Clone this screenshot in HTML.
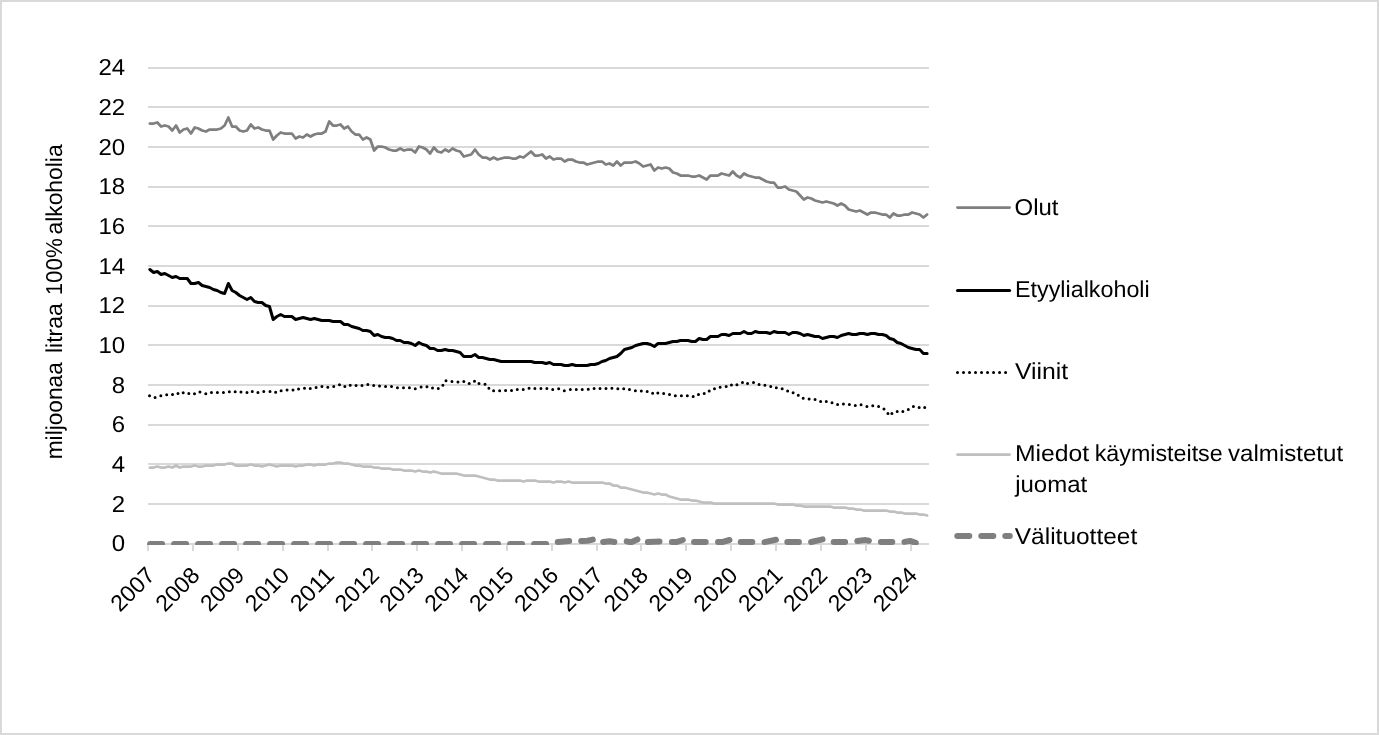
<!DOCTYPE html>
<html lang="fi">
<head>
<meta charset="utf-8">
<title>Alkoholijuomien kulutus</title>
<style>
html,body{margin:0;padding:0;background:#fff;}
body{width:1379px;height:735px;overflow:hidden;}
#chart{position:absolute;left:0;top:0;width:1379px;height:735px;box-sizing:border-box;border:2px solid #d9d9d9;background:#fff;}
svg{position:absolute;left:0;top:0;display:block;}
text{font-family:"Liberation Sans", sans-serif;font-size:23px;fill:#000;text-rendering:geometricPrecision;}
</style>
</head>
<body>
<div id="chart"></div>
<svg width="1379" height="735" viewBox="0 0 1379 735">
<defs><clipPath id="plot"><rect x="140" y="60" width="800" height="485"/></clipPath></defs>

<g stroke="#d9d9d9" stroke-width="2" shape-rendering="crispEdges">
<line x1="148.0" y1="68" x2="929.0" y2="68"/>
<line x1="148.0" y1="107" x2="929.0" y2="107"/>
<line x1="148.0" y1="147" x2="929.0" y2="147"/>
<line x1="148.0" y1="187" x2="929.0" y2="187"/>
<line x1="148.0" y1="226" x2="929.0" y2="226"/>
<line x1="148.0" y1="266" x2="929.0" y2="266"/>
<line x1="148.0" y1="306" x2="929.0" y2="306"/>
<line x1="148.0" y1="345" x2="929.0" y2="345"/>
<line x1="148.0" y1="385" x2="929.0" y2="385"/>
<line x1="148.0" y1="425" x2="929.0" y2="425"/>
<line x1="148.0" y1="464" x2="929.0" y2="464"/>
<line x1="148.0" y1="504" x2="929.0" y2="504"/>
</g>
<g fill="none" stroke-linecap="round" stroke-linejoin="round" clip-path="url(#plot)">
<path d="M149.87,123.50 L153.61,123.50 L157.34,122.50 L161.08,126.50 L164.82,125.50 L168.55,126.50 L172.29,130.50 L176.03,125.50 L179.76,132.50 L183.50,129.50 L187.24,128.50 L190.97,133.50 L194.71,127.50 L198.45,128.50 L202.18,130.50 L205.92,131.50 L209.66,129.50 L213.39,129.50 L217.13,129.50 L220.87,128.50 L224.61,125.50 L228.34,117.50 L232.08,126.50 L235.82,126.50 L239.55,130.50 L243.29,131.50 L247.03,130.50 L250.76,124.50 L254.50,128.50 L258.24,127.50 L261.97,129.50 L265.71,130.50 L269.45,130.50 L273.18,139.50 L276.92,135.50 L280.66,132.50 L284.39,133.50 L288.13,133.50 L291.87,133.50 L295.61,138.50 L299.34,136.50 L303.08,137.50 L306.82,134.50 L310.55,136.50 L314.29,134.50 L318.03,133.50 L321.76,133.50 L325.50,131.50 L329.24,121.50 L332.97,125.50 L336.71,125.50 L340.45,124.50 L344.18,128.50 L347.92,126.50 L351.66,131.50 L355.39,134.50 L359.13,134.50 L362.87,139.50 L366.61,137.50 L370.34,139.50 L374.08,150.50 L377.82,146.50 L381.55,146.50 L385.29,147.50 L389.03,149.50 L392.76,150.50 L396.50,150.50 L400.24,148.50 L403.97,150.50 L407.71,149.50 L411.45,149.50 L415.18,152.50 L418.92,146.50 L422.66,147.50 L426.39,149.50 L430.13,153.50 L433.87,147.50 L437.61,151.50 L441.34,152.50 L445.08,149.50 L448.82,151.50 L452.55,148.50 L456.29,150.50 L460.03,151.50 L463.76,156.50 L467.50,155.50 L471.24,154.50 L474.97,149.50 L478.71,154.50 L482.45,157.50 L486.18,157.50 L489.92,159.50 L493.66,157.50 L497.39,159.50 L501.13,158.50 L504.87,157.50 L508.61,157.50 L512.34,158.50 L516.08,158.50 L519.82,156.50 L523.55,157.50 L527.29,154.50 L531.03,151.50 L534.76,155.50 L538.50,155.50 L542.24,154.50 L545.97,158.50 L549.71,156.50 L553.45,159.50 L557.18,158.50 L560.92,158.50 L564.66,161.50 L568.39,159.50 L572.13,159.50 L575.87,161.50 L579.61,162.50 L583.34,162.50 L587.08,164.50 L590.82,163.50 L594.55,162.50 L598.29,161.50 L602.03,161.50 L605.76,164.50 L609.50,163.50 L613.24,165.50 L616.97,161.50 L620.71,165.50 L624.45,162.50 L628.18,162.50 L631.92,162.50 L635.66,161.50 L639.39,163.50 L643.13,166.50 L646.87,165.50 L650.61,164.50 L654.34,170.50 L658.08,167.50 L661.82,168.50 L665.55,167.50 L669.29,168.50 L673.03,172.50 L676.76,173.50 L680.50,175.50 L684.24,175.50 L687.97,175.50 L691.71,176.50 L695.45,176.50 L699.18,175.50 L702.92,177.50 L706.66,179.50 L710.39,175.50 L714.13,175.50 L717.87,175.50 L721.61,173.50 L725.34,174.50 L729.08,175.50 L732.82,171.50 L736.55,175.50 L740.29,177.50 L744.03,173.50 L747.76,175.50 L751.50,176.50 L755.24,177.50 L758.97,177.50 L762.71,179.50 L766.45,181.50 L770.18,182.50 L773.92,182.50 L777.66,187.50 L781.39,187.50 L785.13,186.50 L788.87,189.50 L792.61,190.50 L796.34,191.50 L800.08,195.50 L803.82,199.50 L807.55,197.50 L811.29,198.50 L815.03,200.50 L818.76,201.50 L822.50,202.50 L826.24,201.50 L829.97,202.50 L833.71,203.50 L837.45,205.50 L841.18,203.50 L844.92,205.50 L848.66,209.50 L852.39,210.50 L856.13,211.50 L859.87,210.50 L863.61,212.50 L867.34,214.50 L871.08,212.50 L874.82,212.50 L878.55,213.50 L882.29,214.50 L886.03,214.50 L889.76,217.50 L893.50,213.50 L897.24,215.50 L900.97,215.50 L904.71,214.50 L908.45,214.50 L912.18,212.50 L915.92,213.50 L919.66,214.50 L923.39,217.50 L927.13,214.50" stroke="#7f7f7f" stroke-width="2.75"/>
<path d="M149.87,269.50 L153.61,272.50 L157.34,271.50 L161.08,274.50 L164.82,273.50 L168.55,275.50 L172.29,277.50 L176.03,276.50 L179.76,278.50 L183.50,278.50 L187.24,278.50 L190.97,283.50 L194.71,283.50 L198.45,282.50 L202.18,285.50 L205.92,286.50 L209.66,287.50 L213.39,289.50 L217.13,290.50 L220.87,292.50 L224.61,293.50 L228.34,283.50 L232.08,290.50 L235.82,292.50 L239.55,295.50 L243.29,297.50 L247.03,299.50 L250.76,297.50 L254.50,301.50 L258.24,302.50 L261.97,302.50 L265.71,305.50 L269.45,306.50 L273.18,319.50 L276.92,316.50 L280.66,314.50 L284.39,316.50 L288.13,316.50 L291.87,316.50 L295.61,319.50 L299.34,318.50 L303.08,317.50 L306.82,318.50 L310.55,319.50 L314.29,318.50 L318.03,319.50 L321.76,320.50 L325.50,320.50 L329.24,320.50 L332.97,321.50 L336.71,321.50 L340.45,321.50 L344.18,324.50 L347.92,324.50 L351.66,326.50 L355.39,327.50 L359.13,328.50 L362.87,330.50 L366.61,330.50 L370.34,331.50 L374.08,335.50 L377.82,334.50 L381.55,336.50 L385.29,337.50 L389.03,337.50 L392.76,338.50 L396.50,340.50 L400.24,340.50 L403.97,342.50 L407.71,342.50 L411.45,343.50 L415.18,345.50 L418.92,342.50 L422.66,344.50 L426.39,345.50 L430.13,348.50 L433.87,348.50 L437.61,350.50 L441.34,350.50 L445.08,349.50 L448.82,350.50 L452.55,350.50 L456.29,351.50 L460.03,352.50 L463.76,356.50 L467.50,356.50 L471.24,356.50 L474.97,354.50 L478.71,357.50 L482.45,357.50 L486.18,358.50 L489.92,359.50 L493.66,359.50 L497.39,360.50 L501.13,361.50 L504.87,361.50 L508.61,361.50 L512.34,361.50 L516.08,361.50 L519.82,361.50 L523.55,361.50 L527.29,361.50 L531.03,361.50 L534.76,362.50 L538.50,362.50 L542.24,362.50 L545.97,363.50 L549.71,362.50 L553.45,364.50 L557.18,364.50 L560.92,364.50 L564.66,365.50 L568.39,365.50 L572.13,364.50 L575.87,365.50 L579.61,365.50 L583.34,365.50 L587.08,365.50 L590.82,364.50 L594.55,364.50 L598.29,363.50 L602.03,361.50 L605.76,360.50 L609.50,358.50 L613.24,357.50 L616.97,356.50 L620.71,353.50 L624.45,349.50 L628.18,348.50 L631.92,347.50 L635.66,345.50 L639.39,344.50 L643.13,343.50 L646.87,343.50 L650.61,344.50 L654.34,346.50 L658.08,343.50 L661.82,343.50 L665.55,343.50 L669.29,342.50 L673.03,341.50 L676.76,341.50 L680.50,340.50 L684.24,340.50 L687.97,340.50 L691.71,341.50 L695.45,341.50 L699.18,338.50 L702.92,339.50 L706.66,339.50 L710.39,336.50 L714.13,336.50 L717.87,336.50 L721.61,334.50 L725.34,334.50 L729.08,335.50 L732.82,333.50 L736.55,333.50 L740.29,333.50 L744.03,331.50 L747.76,333.50 L751.50,333.50 L755.24,331.50 L758.97,332.50 L762.71,332.50 L766.45,332.50 L770.18,333.50 L773.92,331.50 L777.66,332.50 L781.39,332.50 L785.13,332.50 L788.87,334.50 L792.61,332.50 L796.34,332.50 L800.08,333.50 L803.82,335.50 L807.55,334.50 L811.29,335.50 L815.03,336.50 L818.76,336.50 L822.50,338.50 L826.24,337.50 L829.97,336.50 L833.71,336.50 L837.45,337.50 L841.18,335.50 L844.92,334.50 L848.66,333.50 L852.39,334.50 L856.13,334.50 L859.87,333.50 L863.61,333.50 L867.34,334.50 L871.08,333.50 L874.82,333.50 L878.55,334.50 L882.29,334.50 L886.03,335.50 L889.76,338.50 L893.50,339.50 L897.24,342.50 L900.97,343.50 L904.71,345.50 L908.45,347.50 L912.18,348.50 L915.92,349.50 L919.66,349.50 L923.39,353.50 L927.13,353.50" stroke="#000" stroke-width="3"/>
<path d="M149.52,395.63h0 M155.09,397.42h0 M160.84,395.82h0 M166.68,394.69h0 M172.53,394.60h0 M177.99,393.56h0 M183.18,392.81h0 M188.83,393.47h0 M194.49,393.65h0 M199.96,392.05h0 M205.80,393.65h0 M211.46,392.62h0 M217.40,392.62h0 M223.43,392.62h0 M229.37,391.86h0 M235.21,391.86h0 M240.97,392.05h0 M247.00,392.62h0 M252.28,391.39h0 M257.93,392.62h0 M263.78,391.58h0 M270.00,391.58h0 M275.66,392.33h0 M281.12,390.64h0 M287.06,389.98h0 M293.00,389.98h0 M298.56,389.03h0 M304.50,388.28h0 M310.25,388.47h0 M316.10,387.53h0 M321.94,386.58h0 M327.79,387.15h0 M333.73,386.58h0 M339.48,384.79h0 M344.85,386.40h0 M350.22,385.26h0 M356.07,385.45h0 M362.01,385.45h0 M367.85,384.60h0 M373.70,385.45h0 M379.54,386.11h0 M385.57,386.58h0 M391.51,386.58h0 M397.45,387.71h0 M403.48,387.71h0 M409.42,387.71h0 M415.27,388.65h0 M421.11,386.95h0 M426.96,386.76h0 M432.52,387.99h0 M438.27,388.46h0 M442.89,385.35h0 M446.00,380.73h0 M451.94,381.58h0 M457.97,382.05h0 M463.82,381.58h0 M469.19,383.56h0 M474.47,381.30h0 M478.99,383.47h0 M485.03,384.22h0 M488.89,388.18h0 M493.60,390.63h0 M499.64,390.63h0 M505.58,390.44h0 M511.52,390.44h0 M517.27,389.59h0 M523.21,389.59h0 M529.05,388.18h0 M534.89,388.56h0 M540.93,388.46h0 M546.87,388.56h0 M552.71,389.40h0 M558.65,388.74h0 M564.31,390.63h0 M570.34,389.59h0 M576.28,389.59h0 M582.22,389.59h0 M588.25,389.31h0 M594.10,388.56h0 M600.03,388.56h0 M605.97,388.56h0 M611.91,388.18h0 M617.85,388.65h0 M623.70,388.74h0 M629.45,389.59h0 M635.38,390.63h0 M641.32,391.10h0 M647.17,391.48h0 M652.64,393.27h0 M657.82,393.08h0 M663.67,393.55h0 M669.51,394.59h0 M675.35,395.63h0 M681.39,395.63h0 M687.33,395.63h0 M693.17,396.57h0 M698.45,394.40h0 M704.20,393.55h0 M709.20,391.10h0 M714.48,388.65h0 M720.13,387.14h0 M726.17,386.58h0 M731.44,384.88h0 M736.91,384.69h0 M742.47,382.62h0 M747.56,383.56h0 M753.50,382.62h0 M759.06,384.41h0 M764.91,385.26h0 M770.75,386.58h0 M776.32,387.81h0 M782.16,388.75h0 M787.63,391.01h0 M793.10,392.71h0 M798.28,395.35h0 M803.18,398.37h0 M809.12,398.93h0 M815.06,399.59h0 M820.62,401.57h0 M826.28,401.57h0 M832.03,402.70h0 M837.59,404.59h0 M843.44,404.02h0 M849.37,404.49h0 M855.31,405.44h0 M861.06,404.78h0 M866.91,406.47h0 M872.75,405.63h0 M878.60,406.47h0 M883.97,409.02h0 M887.93,413.54h0 M891.89,413.54h0 M897.20,411.57h0 M902.85,411.57h0 M908.32,409.59h0 M913.41,406.58h0 M919.16,407.61h0 M924.72,407.61h0" stroke="#000" stroke-width="3"/>
<path d="M149.87,467.50 L153.61,467.50 L157.34,466.50 L161.08,467.50 L164.82,467.50 L168.55,466.50 L172.29,467.50 L176.03,465.50 L179.76,467.50 L183.50,466.50 L187.24,466.50 L190.97,466.50 L194.71,465.50 L198.45,466.50 L202.18,466.50 L205.92,465.50 L209.66,465.50 L213.39,465.50 L217.13,464.50 L220.87,464.50 L224.61,464.50 L228.34,463.50 L232.08,463.50 L235.82,465.50 L239.55,465.50 L243.29,465.50 L247.03,465.50 L250.76,464.50 L254.50,465.50 L258.24,465.50 L261.97,466.50 L265.71,465.50 L269.45,464.50 L273.18,465.50 L276.92,466.50 L280.66,465.50 L284.39,465.50 L288.13,465.50 L291.87,465.50 L295.61,466.50 L299.34,465.50 L303.08,465.50 L306.82,464.50 L310.55,464.50 L314.29,465.50 L318.03,464.50 L321.76,464.50 L325.50,464.50 L329.24,463.50 L332.97,463.50 L336.71,462.50 L340.45,462.50 L344.18,463.50 L347.92,463.50 L351.66,464.50 L355.39,465.50 L359.13,465.50 L362.87,466.50 L366.61,466.50 L370.34,466.50 L374.08,467.50 L377.82,467.50 L381.55,468.50 L385.29,468.50 L389.03,468.50 L392.76,469.50 L396.50,469.50 L400.24,469.50 L403.97,470.50 L407.71,470.50 L411.45,470.50 L415.18,471.50 L418.92,470.50 L422.66,471.50 L426.39,471.50 L430.13,472.50 L433.87,471.50 L437.61,472.50 L441.34,473.50 L445.08,473.50 L448.82,473.50 L452.55,473.50 L456.29,473.50 L460.03,474.50 L463.76,475.50 L467.50,475.50 L471.24,475.50 L474.97,475.50 L478.71,476.50 L482.45,477.50 L486.18,478.50 L489.92,479.50 L493.66,479.50 L497.39,480.50 L501.13,480.50 L504.87,480.50 L508.61,480.50 L512.34,480.50 L516.08,480.50 L519.82,480.50 L523.55,481.50 L527.29,480.50 L531.03,480.50 L534.76,480.50 L538.50,481.50 L542.24,481.50 L545.97,481.50 L549.71,481.50 L553.45,482.50 L557.18,481.50 L560.92,481.50 L564.66,482.50 L568.39,481.50 L572.13,482.50 L575.87,482.50 L579.61,482.50 L583.34,482.50 L587.08,482.50 L590.82,482.50 L594.55,482.50 L598.29,482.50 L602.03,482.50 L605.76,483.50 L609.50,483.50 L613.24,485.50 L616.97,485.50 L620.71,487.50 L624.45,487.50 L628.18,488.50 L631.92,489.50 L635.66,490.50 L639.39,491.50 L643.13,492.50 L646.87,492.50 L650.61,493.50 L654.34,494.50 L658.08,493.50 L661.82,494.50 L665.55,494.50 L669.29,496.50 L673.03,497.50 L676.76,498.50 L680.50,499.50 L684.24,499.50 L687.97,499.50 L691.71,500.50 L695.45,500.50 L699.18,501.50 L702.92,502.50 L706.66,502.50 L710.39,502.50 L714.13,503.50 L717.87,503.50 L721.61,503.50 L725.34,503.50 L729.08,503.50 L732.82,503.50 L736.55,503.50 L740.29,503.50 L744.03,503.50 L747.76,503.50 L751.50,503.50 L755.24,503.50 L758.97,503.50 L762.71,503.50 L766.45,503.50 L770.18,503.50 L773.92,503.50 L777.66,504.50 L781.39,504.50 L785.13,504.50 L788.87,504.50 L792.61,504.50 L796.34,505.50 L800.08,505.50 L803.82,506.50 L807.55,506.50 L811.29,506.50 L815.03,506.50 L818.76,506.50 L822.50,506.50 L826.24,506.50 L829.97,506.50 L833.71,507.50 L837.45,507.50 L841.18,507.50 L844.92,507.50 L848.66,508.50 L852.39,508.50 L856.13,509.50 L859.87,509.50 L863.61,510.50 L867.34,510.50 L871.08,510.50 L874.82,510.50 L878.55,510.50 L882.29,510.50 L886.03,510.50 L889.76,511.50 L893.50,511.50 L897.24,512.50 L900.97,512.50 L904.71,513.50 L908.45,513.50 L912.18,513.50 L915.92,513.50 L919.66,514.50 L923.39,514.50 L927.13,515.50" stroke="#bfbfbf" stroke-width="2.75"/>
</g>
<g stroke="#d9d9d9" stroke-width="2" shape-rendering="crispEdges"><line x1="148.0" y1="544" x2="929.0" y2="544"/>
<line x1="148" y1="543" x2="148" y2="551"/>
<line x1="193" y1="543" x2="193" y2="551"/>
<line x1="238" y1="543" x2="238" y2="551"/>
<line x1="283" y1="543" x2="283" y2="551"/>
<line x1="328" y1="543" x2="328" y2="551"/>
<line x1="372" y1="543" x2="372" y2="551"/>
<line x1="417" y1="543" x2="417" y2="551"/>
<line x1="462" y1="543" x2="462" y2="551"/>
<line x1="507" y1="543" x2="507" y2="551"/>
<line x1="552" y1="543" x2="552" y2="551"/>
<line x1="597" y1="543" x2="597" y2="551"/>
<line x1="641" y1="543" x2="641" y2="551"/>
<line x1="686" y1="543" x2="686" y2="551"/>
<line x1="731" y1="543" x2="731" y2="551"/>
<line x1="776" y1="543" x2="776" y2="551"/>
<line x1="821" y1="543" x2="821" y2="551"/>
<line x1="866" y1="543" x2="866" y2="551"/>
<line x1="911" y1="543" x2="911" y2="551"/>
</g>
<g fill="none" stroke-linecap="round" stroke-linejoin="round" clip-path="url(#plot)">
<path d="M150.10,544.00 L162.10,544.00 M174.10,544.00 L186.10,544.00 M198.10,544.00 L210.10,544.00 M222.10,544.00 L234.10,544.00 M246.10,544.00 L258.10,544.00 M270.10,544.00 L282.10,544.00 M294.10,544.00 L306.10,544.00 M318.10,544.00 L330.10,544.00 M342.10,544.00 L354.10,544.00 M366.10,544.00 L378.10,544.00 M390.10,544.00 L402.10,544.00 M414.10,544.00 L426.10,544.00 M438.10,544.00 L450.10,544.00 M462.10,544.00 L474.10,544.00 M486.10,544.00 L498.10,544.00 M510.10,544.00 L522.10,544.00 M534.10,544.00 L546.10,544.00 M557.80,541.90 L569.20,541.00 M581.20,541.00 L587.50,540.80 L592.80,539.60 M603.10,542.00 L609.50,541.20 L614.40,542.00 M626.70,541.40 L631.00,542.30 L637.40,539.40 M647.90,542.00 L659.50,541.40 M671.90,542.00 L677.00,541.90 L682.80,540.00 M694.10,542.00 L705.70,542.00 M718.05,542.10 L723.00,541.90 L729.50,540.00 M740.76,542.00 L752.30,542.00 M764.50,542.10 L775.90,539.80 M787.30,542.00 L798.90,542.00 M811.10,542.00 L822.60,539.40 M833.70,542.00 L845.10,542.00 M857.30,541.10 L865.50,540.10 L868.90,540.70 M880.90,542.00 L892.30,542.00 M904.40,541.90 L910.00,540.90 L915.80,542.80" stroke="#7f7f7f" stroke-width="6"/>
</g>
<g text-anchor="end">
<text x="125.2" y="75" class="ax" textLength="26.70" lengthAdjust="spacingAndGlyphs">24</text>
<text x="125.2" y="115" class="ax" textLength="26.70" lengthAdjust="spacingAndGlyphs">22</text>
<text x="125.2" y="155" class="ax" textLength="26.70" lengthAdjust="spacingAndGlyphs">20</text>
<text x="125.2" y="194" class="ax" textLength="26.70" lengthAdjust="spacingAndGlyphs">18</text>
<text x="125.2" y="234" class="ax" textLength="26.70" lengthAdjust="spacingAndGlyphs">16</text>
<text x="125.2" y="274" class="ax" textLength="26.70" lengthAdjust="spacingAndGlyphs">14</text>
<text x="125.2" y="313" class="ax" textLength="26.70" lengthAdjust="spacingAndGlyphs">12</text>
<text x="125.2" y="353" class="ax" textLength="26.70" lengthAdjust="spacingAndGlyphs">10</text>
<text x="125.2" y="393" class="ax" textLength="13.35" lengthAdjust="spacingAndGlyphs">8</text>
<text x="125.2" y="432" class="ax" textLength="13.35" lengthAdjust="spacingAndGlyphs">6</text>
<text x="125.2" y="472" class="ax" textLength="13.35" lengthAdjust="spacingAndGlyphs">4</text>
<text x="125.2" y="512" class="ax" textLength="13.35" lengthAdjust="spacingAndGlyphs">2</text>
<text x="125.2" y="551" class="ax" textLength="13.35" lengthAdjust="spacingAndGlyphs">0</text>
</g>
<g text-anchor="end">
<text transform="translate(156.20,576.6) rotate(-45)" class="ax" textLength="51.1" lengthAdjust="spacingAndGlyphs">2007</text>
<text transform="translate(201.04,576.6) rotate(-45)" class="ax" textLength="51.1" lengthAdjust="spacingAndGlyphs">2008</text>
<text transform="translate(245.88,576.6) rotate(-45)" class="ax" textLength="51.1" lengthAdjust="spacingAndGlyphs">2009</text>
<text transform="translate(290.73,576.6) rotate(-45)" class="ax" textLength="51.1" lengthAdjust="spacingAndGlyphs">2010</text>
<text transform="translate(335.57,576.6) rotate(-45)" class="ax" textLength="51.1" lengthAdjust="spacingAndGlyphs">2011</text>
<text transform="translate(380.41,576.6) rotate(-45)" class="ax" textLength="51.1" lengthAdjust="spacingAndGlyphs">2012</text>
<text transform="translate(425.25,576.6) rotate(-45)" class="ax" textLength="51.1" lengthAdjust="spacingAndGlyphs">2013</text>
<text transform="translate(470.09,576.6) rotate(-45)" class="ax" textLength="51.1" lengthAdjust="spacingAndGlyphs">2014</text>
<text transform="translate(514.94,576.6) rotate(-45)" class="ax" textLength="51.1" lengthAdjust="spacingAndGlyphs">2015</text>
<text transform="translate(559.78,576.6) rotate(-45)" class="ax" textLength="51.1" lengthAdjust="spacingAndGlyphs">2016</text>
<text transform="translate(604.62,576.6) rotate(-45)" class="ax" textLength="51.1" lengthAdjust="spacingAndGlyphs">2017</text>
<text transform="translate(649.46,576.6) rotate(-45)" class="ax" textLength="51.1" lengthAdjust="spacingAndGlyphs">2018</text>
<text transform="translate(694.30,576.6) rotate(-45)" class="ax" textLength="51.1" lengthAdjust="spacingAndGlyphs">2019</text>
<text transform="translate(739.15,576.6) rotate(-45)" class="ax" textLength="51.1" lengthAdjust="spacingAndGlyphs">2020</text>
<text transform="translate(783.99,576.6) rotate(-45)" class="ax" textLength="51.1" lengthAdjust="spacingAndGlyphs">2021</text>
<text transform="translate(828.83,576.6) rotate(-45)" class="ax" textLength="51.1" lengthAdjust="spacingAndGlyphs">2022</text>
<text transform="translate(873.67,576.6) rotate(-45)" class="ax" textLength="51.1" lengthAdjust="spacingAndGlyphs">2023</text>
<text transform="translate(918.51,576.6) rotate(-45)" class="ax" textLength="51.1" lengthAdjust="spacingAndGlyphs">2024</text>
</g>
<text transform="translate(62,459.30) rotate(-90)" textLength="97.14" lengthAdjust="spacingAndGlyphs">miljoonaa</text>
<text transform="translate(62,353.03) rotate(-90)" textLength="49.66" lengthAdjust="spacingAndGlyphs">litraa</text>
<text transform="translate(62,295.33) rotate(-90)" textLength="57.25" lengthAdjust="spacingAndGlyphs">100%</text>
<text transform="translate(62,234.55) rotate(-90)" textLength="90.22" lengthAdjust="spacingAndGlyphs">alkoholia</text>
<g fill="none" stroke-linecap="round">
<line x1="957.5" y1="207.5" x2="1009.6" y2="207.5" stroke="#7f7f7f" stroke-width="2.75"/>
<line x1="957.5" y1="290.5" x2="1009.6" y2="290.5" stroke="#000" stroke-width="3"/>
<path d="M957.50,372.5h0 M963.51,372.5h0 M969.52,372.5h0 M975.53,372.5h0 M981.54,372.5h0 M987.55,372.5h0 M993.56,372.5h0 M999.57,372.5h0 M1005.58,372.5h0" stroke="#000" stroke-width="3"/>
<line x1="957.5" y1="454.5" x2="1009.6" y2="454.5" stroke="#bfbfbf" stroke-width="2.75"/>
<line x1="957.3" y1="536" x2="1009.8" y2="536" stroke="#7f7f7f" stroke-width="6" stroke-dasharray="12 12"/>
</g>
<text x="1014.5" y="215" textLength="43.96" lengthAdjust="spacingAndGlyphs">Olut</text>
<text x="1015.0" y="297" textLength="134.7" lengthAdjust="spacingAndGlyphs">Etyylialkoholi</text>
<text x="1014.9" y="379" textLength="53.3" lengthAdjust="spacingAndGlyphs">Viinit</text>
<text x="1014.9" y="461" textLength="74.3" lengthAdjust="spacingAndGlyphs">Miedot</text>
<text x="1094.7" y="461" textLength="128.0" lengthAdjust="spacingAndGlyphs">käymisteitse</text>
<text x="1228.1" y="461" textLength="115.0" lengthAdjust="spacingAndGlyphs">valmistetut</text>
<text x="1015.2" y="492" textLength="72.0" lengthAdjust="spacingAndGlyphs">juomat</text>
<text x="1014.8" y="544" textLength="122.4" lengthAdjust="spacingAndGlyphs">Välituotteet</text>
</svg>
</body>
</html>
